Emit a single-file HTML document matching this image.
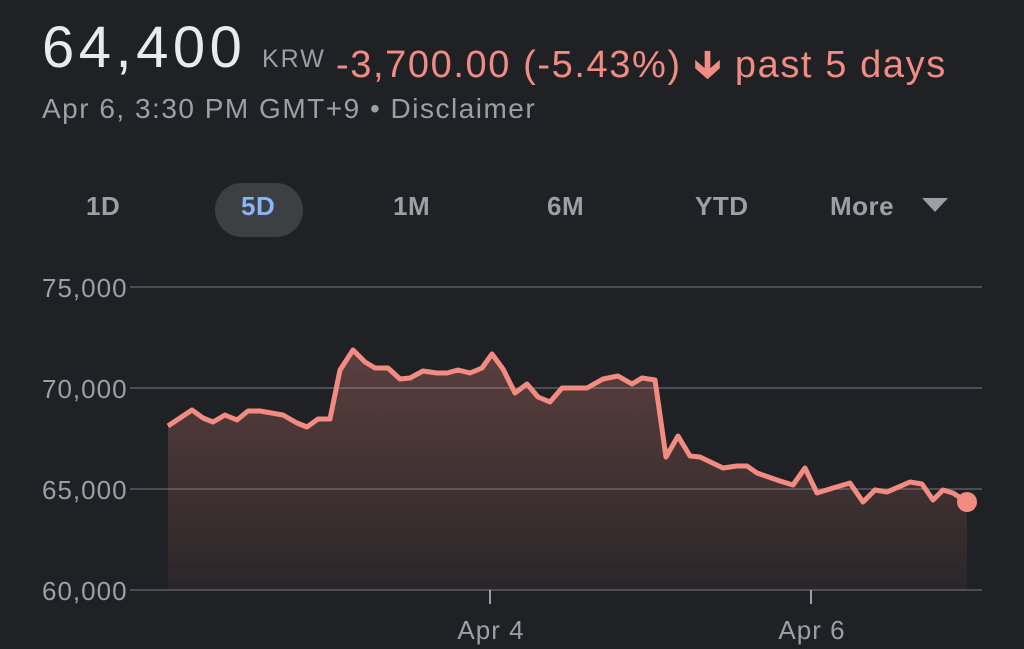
<!DOCTYPE html>
<html><head><meta charset="utf-8"><style>
html,body{margin:0;padding:0;background:#202124;width:1024px;height:649px;overflow:hidden;font-family:"Liberation Sans",sans-serif}
.a{position:absolute;white-space:nowrap}
.t{font-size:26px;color:#9aa0a6;font-weight:bold;letter-spacing:0.5px;top:191px}
</style></head><body>
<div class="a" style="left:42px;top:14px;font-size:58px;color:#e8eaed;letter-spacing:4.5px">64,400</div>
<div class="a" style="left:262px;top:45px;font-size:25px;color:#9aa0a6;letter-spacing:2px">KRW</div>
<div class="a" style="left:336px;top:36px;font-size:38px;color:#f28b82;letter-spacing:1.6px">-3,700.00 (-5.43%) <span style="font-weight:bold">&#129139;</span> past 5 days</div>
<div class="a" style="left:42px;top:93px;font-size:28px;color:#9aa0a6;letter-spacing:1.5px">Apr 6, 3:30 PM GMT+9 • Disclaimer</div>
<div class="a" style="left:215px;top:183px;width:88px;height:54px;border-radius:27px;background:#3c4043"></div>
<div class="a t" style="left:86px">1D</div>
<div class="a t" style="left:241px;color:#8ab4f8">5D</div>
<div class="a t" style="left:393px">1M</div>
<div class="a t" style="left:547px">6M</div>
<div class="a t" style="left:695px">YTD</div>
<div class="a t" style="left:830px">More</div>
<svg class="a" style="left:0;top:0" width="1024" height="649">
<defs><linearGradient id="g" x1="0" y1="0" x2="0" y2="1"><stop offset="0" stop-color="#f28b82" stop-opacity="0.28"/><stop offset="1" stop-color="#f28b82" stop-opacity="0.05"/></linearGradient></defs>
<polygon points="922,198 948,198 935,212" fill="#9aa0a6"/>
<g stroke="#4a4d52" stroke-width="2"><line x1="130" y1="287" x2="982" y2="287"/><line x1="130" y1="388" x2="982" y2="388"/><line x1="130" y1="489" x2="982" y2="489"/><line x1="130" y1="590" x2="982" y2="590"/></g>
<g stroke="#9aa0a6" stroke-width="2"><line x1="490" y1="590" x2="490" y2="604"/><line x1="811" y1="590" x2="811" y2="604"/></g>
<polygon fill="url(#g)" points="168,590 168,426 192,410 203,418 213,422 225,415 237,420 248,411 260,411 283,415 297,423 307,427 318,419 330,419 340,370 353,350 365,362 375,368 388,368 400,379 410,378 423,371 437,373 447,373 458,370 470,373 482,368 492,354 503,369 515,393 527,384 538,397 550,402 562,388 587,388 603,379 618,376 632,384 642,378 655,380 666,457 678,436 690,456 700,457 723,468 737,466 747,466 757,473 780,481 793,485 805,468 817,493 833,488 850,483 863,502 875,490 887,492 910,482 922,484 933,500 943,490 953,493 967,502 967,590"/>
<polyline fill="none" stroke="#f28b82" stroke-width="5" stroke-linejoin="round" points="168,426 192,410 203,418 213,422 225,415 237,420 248,411 260,411 283,415 297,423 307,427 318,419 330,419 340,370 353,350 365,362 375,368 388,368 400,379 410,378 423,371 437,373 447,373 458,370 470,373 482,368 492,354 503,369 515,393 527,384 538,397 550,402 562,388 587,388 603,379 618,376 632,384 642,378 655,380 666,457 678,436 690,456 700,457 723,468 737,466 747,466 757,473 780,481 793,485 805,468 817,493 833,488 850,483 863,502 875,490 887,492 910,482 922,484 933,500 943,490 953,493 967,502"/>
<circle cx="967" cy="502" r="10" fill="#f28b82"/>
<g fill="#9aa0a6" font-size="26" font-family="Liberation Sans,sans-serif" letter-spacing="1">
<text x="42" y="297">75,000</text><text x="42" y="398">70,000</text><text x="42" y="499">65,000</text><text x="42" y="600">60,000</text>
<text x="491" y="639" text-anchor="middle">Apr 4</text><text x="812" y="639" text-anchor="middle">Apr 6</text></g>
</svg>
</body></html>
